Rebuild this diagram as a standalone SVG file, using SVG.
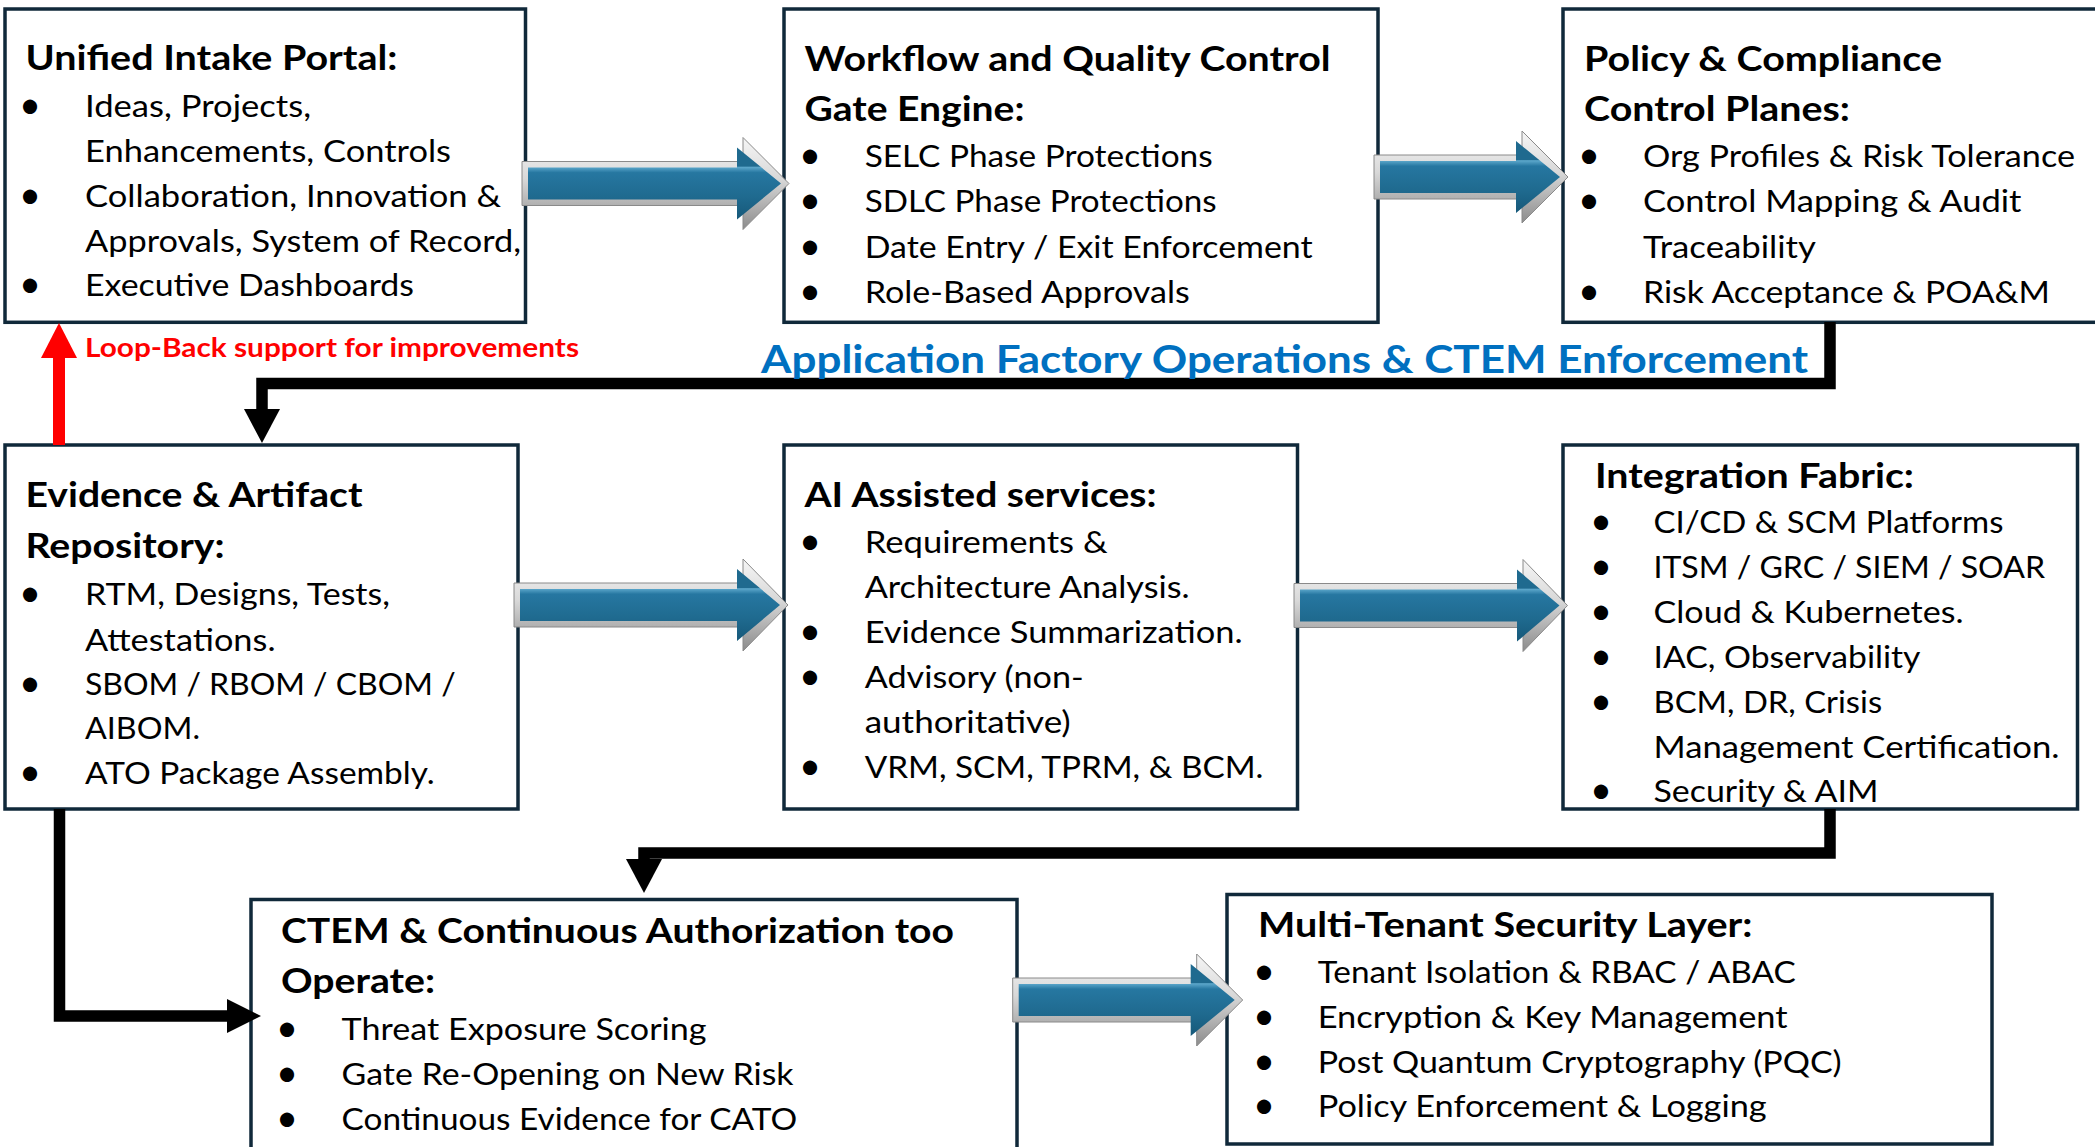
<svg xmlns="http://www.w3.org/2000/svg" width="2095" height="1147" viewBox="0 0 2095 1147">
  <defs>
    <!-- silver bevel around the block arrows (local arrow coordinates) -->
    <linearGradient id="bevel" gradientUnits="userSpaceOnUse" x1="0" y1="-46" x2="0" y2="46">
      <stop offset="0" stop-color="#f6f6f6"/>
      <stop offset="0.45" stop-color="#d8d8d8"/>
      <stop offset="1" stop-color="#8c8c8c"/>
    </linearGradient>
    <!-- steel-blue face with a light rim along the top of the shaft -->
    <linearGradient id="steel" gradientUnits="userSpaceOnUse" x1="0" y1="-34" x2="0" y2="34">
      <stop offset="0" stop-color="#1f6a8f"/>
      <stop offset="0.245" stop-color="#1f6a8f"/>
      <stop offset="0.26" stop-color="#5ca7cb"/>
      <stop offset="0.34" stop-color="#2677a1"/>
      <stop offset="0.7" stop-color="#1f6a8f"/>
      <stop offset="1" stop-color="#175a7b"/>
    </linearGradient>
    <style>
      .box { fill: #ffffff; stroke: #10293a; stroke-width: 3.5; }
      .t { font-family: Lato, "Liberation Sans", sans-serif; font-weight: 700; font-size: 35px; fill: #000000; }
      .b { font-family: Lato, "Liberation Sans", sans-serif; font-size: 31.5px; fill: #000000; }
      .dot { font-family: Lato, "Liberation Sans", sans-serif; font-size: 38px; fill: #000000; text-anchor: middle; }
      .wire { fill: none; stroke: #000000; stroke-width: 11.5; stroke-linejoin: miter; }
      .tip { fill: #000000; }
      .rim { fill: url(#bevel); stroke: #8a8a8a; stroke-width: 1; }
      .face { fill: url(#steel); }
    </style>
  </defs>

  <rect x="0" y="0" width="2095" height="1147" fill="#ffffff"/>

  <!-- Row 1 -->
  <g id="intake-portal">
    <rect class="box" x="5" y="9" width="520.5" height="313.3"/>
    <text class="t" x="25.5" y="70" textLength="372" lengthAdjust="spacingAndGlyphs">Unified Intake Portal:</text>
    <text class="dot" x="30" y="118">•</text>
    <text class="b" x="85" y="117" textLength="226" lengthAdjust="spacingAndGlyphs">Ideas, Projects,</text>
    <text class="b" x="85" y="162" textLength="366" lengthAdjust="spacingAndGlyphs">Enhancements, Controls</text>
    <text class="dot" x="30" y="208">•</text>
    <text class="b" x="85" y="207" textLength="416" lengthAdjust="spacingAndGlyphs">Collaboration, Innovation &amp;</text>
    <text class="b" x="85" y="251.5" textLength="436" lengthAdjust="spacingAndGlyphs">Approvals, System of Record,</text>
    <text class="dot" x="30" y="297">•</text>
    <text class="b" x="85" y="296" textLength="329" lengthAdjust="spacingAndGlyphs">Executive Dashboards</text>
  </g>

  <g id="workflow-gate-engine">
    <rect class="box" x="784" y="9" width="594" height="313.3"/>
    <text class="t" x="804.5" y="70.7" textLength="526" lengthAdjust="spacingAndGlyphs">Workflow and Quality Control</text>
    <text class="t" x="804.5" y="120.7" textLength="220" lengthAdjust="spacingAndGlyphs">Gate Engine:</text>
    <text class="dot" x="810" y="167.7">•</text>
    <text class="b" x="864.7" y="166.7" textLength="348" lengthAdjust="spacingAndGlyphs">SELC Phase Protections</text>
    <text class="dot" x="810" y="212.7">•</text>
    <text class="b" x="864.7" y="211.7" textLength="352" lengthAdjust="spacingAndGlyphs">SDLC Phase Protections</text>
    <text class="dot" x="810" y="258.7">•</text>
    <text class="b" x="864.7" y="257.7" textLength="448" lengthAdjust="spacingAndGlyphs">Date Entry / Exit Enforcement</text>
    <text class="dot" x="810" y="303.7">•</text>
    <text class="b" x="864.7" y="302.7" textLength="325" lengthAdjust="spacingAndGlyphs">Role-Based Approvals</text>
  </g>

  <g id="policy-control-planes">
    <rect class="box" x="1563" y="9" width="545" height="313.3"/>
    <text class="t" x="1584" y="70.7" textLength="358" lengthAdjust="spacingAndGlyphs">Policy &amp; Compliance</text>
    <text class="t" x="1584" y="120.7" textLength="266" lengthAdjust="spacingAndGlyphs">Control Planes:</text>
    <text class="dot" x="1589" y="167.7">•</text>
    <text class="b" x="1643" y="166.7" textLength="432" lengthAdjust="spacingAndGlyphs">Org Profiles &amp; Risk Tolerance</text>
    <text class="dot" x="1589" y="212.7">•</text>
    <text class="b" x="1643" y="211.7" textLength="378.5" lengthAdjust="spacingAndGlyphs">Control Mapping &amp; Audit</text>
    <text class="b" x="1643" y="257.7" textLength="173" lengthAdjust="spacingAndGlyphs">Traceability</text>
    <text class="dot" x="1589" y="303.7">•</text>
    <text class="b" x="1643" y="302.7" textLength="407" lengthAdjust="spacingAndGlyphs">Risk Acceptance &amp; POA&amp;M</text>
  </g>

  <!-- Row 2 -->
  <g id="evidence-repository">
    <rect class="box" x="5" y="445" width="513" height="364"/>
    <text class="t" x="25.5" y="507.3" textLength="337" lengthAdjust="spacingAndGlyphs">Evidence &amp; Artifact</text>
    <text class="t" x="25.5" y="558.3" textLength="199" lengthAdjust="spacingAndGlyphs">Repository:</text>
    <text class="dot" x="30" y="606">•</text>
    <text class="b" x="85" y="605" textLength="305" lengthAdjust="spacingAndGlyphs">RTM, Designs, Tests,</text>
    <text class="b" x="85" y="650.7" textLength="190.5" lengthAdjust="spacingAndGlyphs">Attestations.</text>
    <text class="dot" x="30" y="696">•</text>
    <text class="b" x="85" y="695" textLength="370.6" lengthAdjust="spacingAndGlyphs">SBOM / RBOM / CBOM /</text>
    <text class="b" x="85" y="739.3" textLength="115" lengthAdjust="spacingAndGlyphs">AIBOM.</text>
    <text class="dot" x="30" y="785.3">•</text>
    <text class="b" x="85" y="784.3" textLength="349.7" lengthAdjust="spacingAndGlyphs">ATO Package Assembly.</text>
  </g>

  <g id="ai-services">
    <rect class="box" x="784" y="445" width="513.5" height="364"/>
    <text class="t" x="804.5" y="507.3" textLength="352" lengthAdjust="spacingAndGlyphs">AI Assisted services:</text>
    <text class="dot" x="810" y="554.3">•</text>
    <text class="b" x="864.7" y="553.3" textLength="243" lengthAdjust="spacingAndGlyphs">Requirements &amp;</text>
    <text class="b" x="864.7" y="598.3" textLength="325" lengthAdjust="spacingAndGlyphs">Architecture Analysis.</text>
    <text class="dot" x="810" y="643.7">•</text>
    <text class="b" x="864.7" y="642.7" textLength="378" lengthAdjust="spacingAndGlyphs">Evidence Summarization.</text>
    <text class="dot" x="810" y="689.3">•</text>
    <text class="b" x="864.7" y="688.3" textLength="219" lengthAdjust="spacingAndGlyphs">Advisory (non-</text>
    <text class="b" x="864.7" y="733.3" textLength="206" lengthAdjust="spacingAndGlyphs">authoritative)</text>
    <text class="dot" x="810" y="779.3">•</text>
    <text class="b" x="864.7" y="778.3" textLength="398.7" lengthAdjust="spacingAndGlyphs">VRM, SCM, TPRM, &amp; BCM.</text>
  </g>

  <g id="integration-fabric">
    <rect class="box" x="1563" y="445" width="514.5" height="364"/>
    <text class="t" x="1595" y="488.3" textLength="319" lengthAdjust="spacingAndGlyphs">Integration Fabric:</text>
    <text class="dot" x="1601" y="534.3">•</text>
    <text class="b" x="1653.5" y="533.3" textLength="350" lengthAdjust="spacingAndGlyphs">CI/CD &amp; SCM Platforms</text>
    <text class="dot" x="1601" y="579.3">•</text>
    <text class="b" x="1653.5" y="578.3" textLength="391.5" lengthAdjust="spacingAndGlyphs">ITSM / GRC / SIEM / SOAR</text>
    <text class="dot" x="1601" y="624.3">•</text>
    <text class="b" x="1653.5" y="623.3" textLength="310" lengthAdjust="spacingAndGlyphs">Cloud &amp; Kubernetes.</text>
    <text class="dot" x="1601" y="669.3">•</text>
    <text class="b" x="1653.5" y="668.3" textLength="267" lengthAdjust="spacingAndGlyphs">IAC, Observability</text>
    <text class="dot" x="1601" y="714.3">•</text>
    <text class="b" x="1653.5" y="713.3" textLength="228.6" lengthAdjust="spacingAndGlyphs">BCM, DR, Crisis</text>
    <text class="b" x="1653.5" y="757.7" textLength="406" lengthAdjust="spacingAndGlyphs">Management Certification.</text>
    <text class="dot" x="1601" y="802.7">•</text>
    <text class="b" x="1653.5" y="801.7" textLength="225" lengthAdjust="spacingAndGlyphs">Security &amp; AIM</text>
  </g>

  <!-- Row 3 -->
  <g id="ctem-cato">
    <rect class="box" x="251" y="899.5" width="766" height="270"/>
    <text class="t" x="281" y="943.3" textLength="673" lengthAdjust="spacingAndGlyphs">CTEM &amp; Continuous Authorization too</text>
    <text class="t" x="281" y="993.3" textLength="154" lengthAdjust="spacingAndGlyphs">Operate:</text>
    <text class="dot" x="287" y="1041">•</text>
    <text class="b" x="341.6" y="1040" textLength="365" lengthAdjust="spacingAndGlyphs">Threat Exposure Scoring</text>
    <text class="dot" x="287" y="1086">•</text>
    <text class="b" x="341.6" y="1085" textLength="452" lengthAdjust="spacingAndGlyphs">Gate Re-Opening on New Risk</text>
    <text class="dot" x="287" y="1131">•</text>
    <text class="b" x="341.6" y="1130" textLength="455.5" lengthAdjust="spacingAndGlyphs">Continuous Evidence for CATO</text>
  </g>

  <g id="multi-tenant-security">
    <rect class="box" x="1227" y="894.5" width="765" height="249.5"/>
    <text class="t" x="1258" y="936.7" textLength="494.5" lengthAdjust="spacingAndGlyphs">Multi-Tenant Security Layer:</text>
    <text class="dot" x="1264" y="983.7">•</text>
    <text class="b" x="1317.7" y="982.7" textLength="478" lengthAdjust="spacingAndGlyphs">Tenant Isolation &amp; RBAC / ABAC</text>
    <text class="dot" x="1264" y="1028.7">•</text>
    <text class="b" x="1317.7" y="1027.7" textLength="470" lengthAdjust="spacingAndGlyphs">Encryption &amp; Key Management</text>
    <text class="dot" x="1264" y="1074.3">•</text>
    <text class="b" x="1317.7" y="1073.3" textLength="524" lengthAdjust="spacingAndGlyphs">Post Quantum Cryptography (PQC)</text>
    <text class="dot" x="1264" y="1117.7">•</text>
    <text class="b" x="1317.7" y="1116.7" textLength="449" lengthAdjust="spacingAndGlyphs">Policy Enforcement &amp; Logging</text>
  </g>

  <!-- Connectors -->
  <g id="connectors">
    <!-- policy planes -> evidence repository -->
    <path class="wire" d="M1830,322 V383.5 H262 V412"/>
    <polygon class="tip" points="244,409 280,409 262,443"/>
    <!-- integration fabric -> CTEM -->
    <path class="wire" d="M1830,809 V853 H644 V862"/>
    <polygon class="tip" points="626,859 662,859 644,893"/>
    <!-- evidence repository -> CTEM -->
    <path class="wire" d="M59.5,809 V1016 H230"/>
    <polygon class="tip" points="227,999 227,1033 261,1016"/>
    <!-- loop-back to intake -->
    <rect x="53" y="356" width="12" height="89" fill="#ff0000"/>
    <polygon points="41,358 77,358 59,323" fill="#ff0000"/>

    <!-- block arrows -->
    <g transform="translate(522,183.5)">
      <path class="rim" d="M0,-22 H221 V-46 L267,0 L221,46 V22 H0 Z"/>
      <path class="face" d="M6,-16 H215 V-36 L259,0 L215,36 V16 H6 Z"/>
    </g>
    <g transform="translate(1374,177)">
      <path class="rim" d="M0,-22 H148 V-46 L194,0 L148,46 V22 H0 Z"/>
      <path class="face" d="M6,-16 H142 V-36 L186,0 L142,36 V16 H6 Z"/>
    </g>
    <g transform="translate(514,605)">
      <path class="rim" d="M0,-22 H229 V-46 L274,0 L229,46 V22 H0 Z"/>
      <path class="face" d="M6,-16 H223 V-36 L266,0 L223,36 V16 H6 Z"/>
    </g>
    <g transform="translate(1294,605.5)">
      <path class="rim" d="M0,-22 H229 V-46 L273.5,0 L229,46 V22 H0 Z"/>
      <path class="face" d="M6,-16 H223 V-36 L265.5,0 L223,36 V16 H6 Z"/>
    </g>
    <g transform="translate(1012.7,1000)">
      <path class="rim" d="M0,-22 H184 V-46 L230,0 L184,46 V22 H0 Z"/>
      <path class="face" d="M6,-16 H178 V-36 L222,0 L178,36 V16 H6 Z"/>
    </g>
  </g>

  <!-- Labels on the flow -->
  <g id="labels">
    <text x="85" y="356.7" textLength="494" lengthAdjust="spacingAndGlyphs" style="font-family: Lato, 'Liberation Sans', sans-serif; font-weight: 700; font-size: 26px; fill: #ff0000;">Loop-Back support for improvements</text>
    <text x="761" y="372.7" textLength="1047" lengthAdjust="spacingAndGlyphs" style="font-family: Lato, 'Liberation Sans', sans-serif; font-weight: 700; font-size: 39px; fill: #0070c0;">Application Factory Operations &amp; CTEM Enforcement</text>
  </g>
</svg>
